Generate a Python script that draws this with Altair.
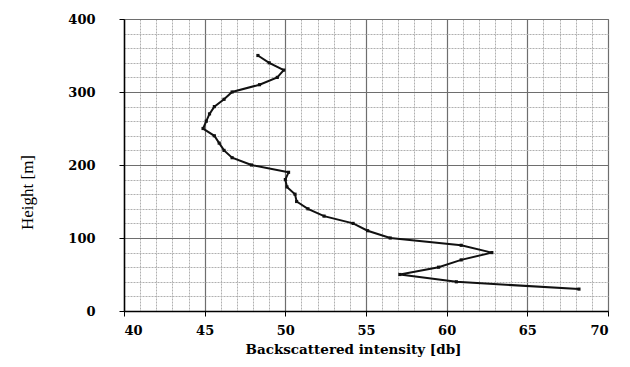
import altair as alt
import pandas as pd

heights = [350, 340, 330, 320, 310, 300, 290, 280, 270, 260, 250, 240, 230, 220, 210, 200,
           190, 180, 170, 160, 150, 140, 130, 120, 110, 100, 90, 80, 70, 60, 50, 40, 30]
intensity = [48.3, 49.0, 49.9, 49.5, 48.4, 46.7, 46.2, 45.6, 45.3, 45.1, 44.9, 45.6, 45.9, 46.2, 46.7, 47.9,
             50.2, 50.0, 50.1, 50.6, 50.7, 51.4, 52.4, 54.2, 55.1, 56.5, 60.9, 62.8, 60.9, 59.5, 57.1, 60.6, 68.2]

x_values = list(range(40, 71))
y_values = list(range(0, 401, 20))

df = pd.DataFrame({"height": heights, "intensity": intensity})

serif = "Liberation Serif"
wide_serif = "DejaVu Serif"

x_axis = alt.Axis(
    values=x_values,
    labelExpr="datum.value % 5 === 0 ? datum.label : ''",
    title="Backscattered intensity [db]",
    titleFont=wide_serif, titleFontSize=13.5, titleFontWeight="bold", titleColor="#000",
    titlePadding=5, titleX=229,
    labelFont=wide_serif, labelFontSize=13, labelFontWeight="bold", labelColor="#000",
    labelPadding=8,
    domainColor="#000", domainWidth=1.5,
    tickColor="#000",
    tickSize={"condition": {"test": "datum.value % 5 === 0", "value": 5}, "value": 0},
    gridColor={"condition": {"test": "datum.value % 5 === 0", "value": "#6e6e6e"}, "value": "#b0b0b0"},
    gridDash={"condition": {"test": "datum.value % 5 === 0", "value": []}, "value": [2, 1]},
    gridWidth={"condition": {"test": "datum.value % 5 === 0", "value": 1.2}, "value": 1},
)

y_axis = alt.Axis(
    values=y_values,
    labelExpr="datum.value % 100 === 0 ? datum.label : ''",
    title="Height [m]",
    titleFont=serif, titleFontSize=17, titleFontWeight="normal", titleColor="#000",
    titleX=-88, titleY=173, titleAngle=270,
    labelFont=wide_serif, labelFontSize=13, labelFontWeight="bold", labelColor="#000",
    labelPadding=24,
    domainColor="#000", domainWidth=1.5,
    tickColor="#000",
    tickSize={"condition": {"test": "datum.value % 100 === 0", "value": 5}, "value": 0},
    gridColor={"condition": {"test": "datum.value % 100 === 0", "value": "#6e6e6e"}, "value": "#b0b0b0"},
    gridDash={"condition": {"test": "datum.value % 100 === 0", "value": []}, "value": [2, 1]},
    gridWidth={"condition": {"test": "datum.value % 100 === 0", "value": 1.2}, "value": 1},
)

chart = alt.Chart(df).mark_line(
    color="#111", strokeWidth=2,
    point=alt.OverlayMarkDef(filled=True, color="#111", shape="square", size=10),
).encode(
    x=alt.X("intensity:Q", scale=alt.Scale(domain=[40, 70], nice=False), axis=x_axis),
    y=alt.Y("height:Q", scale=alt.Scale(domain=[0, 400], nice=False), axis=y_axis),
    order=alt.Order("height:Q"),
).properties(
    width=484, height=292,
    autosize=alt.AutoSizeParams(type="none"),
    padding={"left": 116, "top": 11, "right": 5, "bottom": 47},
    background="white",
).configure_view(stroke="#6e6e6e")

chart.save("out.html", embed_options={"renderer": "svg", "actions": False})
